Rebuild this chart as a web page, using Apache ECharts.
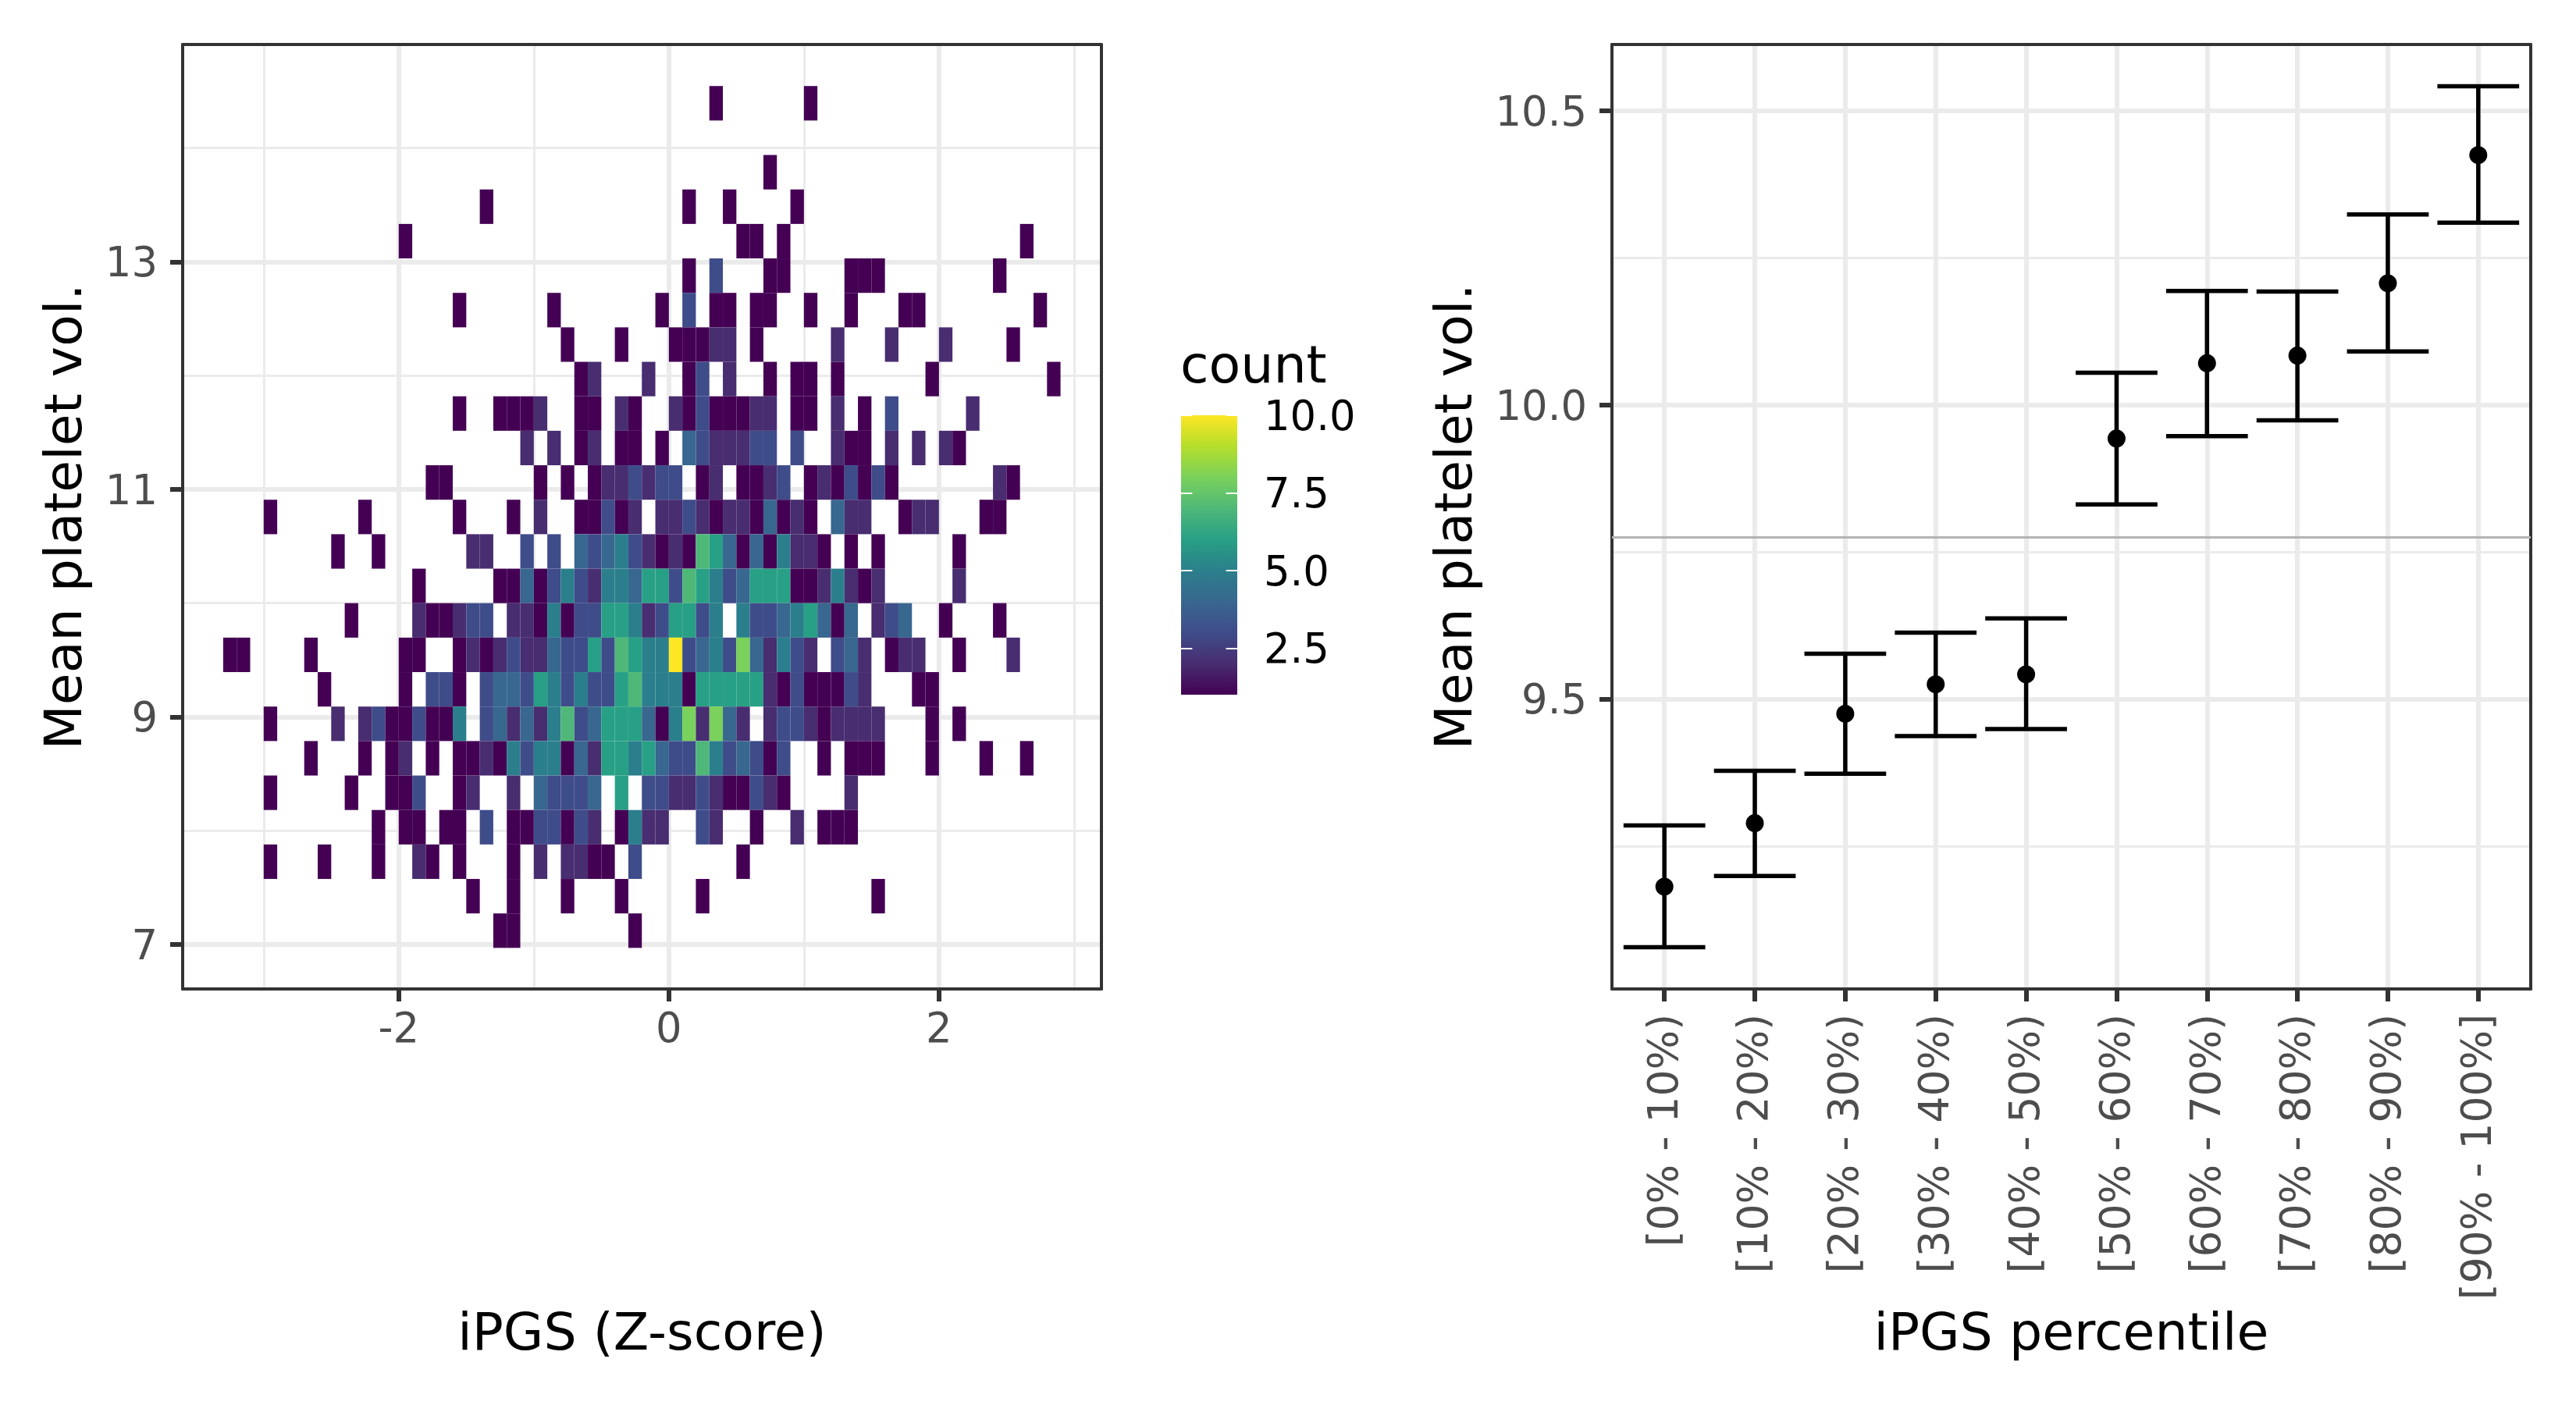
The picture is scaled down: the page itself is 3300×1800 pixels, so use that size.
<!DOCTYPE html>
<html>
<head>
<meta charset="utf-8">
<style>html,body{margin:0;padding:0;background:#fff}#c{width:3300px;height:1800px}</style>
<script src="https://cdn.jsdelivr.net/npm/echarts@6/dist/echarts.min.js"></script>
</head>
<body>
<div id="c"></div>
<script>
// ---------- left panel: 2D histogram. Each pair = [x bin index (x = index / 10), count]
const xBinWidth = 0.1, yBinHeight = 0.303, yBinBase = 6.97;
const row24 = [[-13,1],[-12,1],[-3,1]];
const row23 = [[-15,1],[-12,1],[-8,1],[-4,1],[2,1],[15,1]];
const row22 = [[-30,1],[-26,1],[-22,1],[-19,2],[-18,1],[-16,1],[-12,1],[-10,2],[-8,2],[-7,2],[-6,1],[-5,1],[-3,3],[5,1]];
const row21 = [[-22,1],[-20,1],[-19,1],[-17,1],[-16,1],[-14,3],[-12,1],[-11,1],[-10,3],[-9,3],[-8,1],[-7,3],[-6,2],[-4,1],[-3,5],[-2,2],[-1,2],[2,3],[3,2],[6,1],[9,2],[11,1],[12,1],[13,1]];
const row20 = [[-30,1],[-24,1],[-21,1],[-20,1],[-19,3],[-16,1],[-15,2],[-12,2],[-10,4],[-9,3],[-8,3],[-7,3],[-6,4],[-4,6],[-2,3],[-1,3],[0,2],[1,2],[2,3],[3,2],[4,1],[5,1],[6,3],[7,2],[8,1],[13,2]];
const row19 = [[-27,1],[-23,1],[-21,1],[-20,2],[-18,1],[-16,1],[-15,1],[-14,2],[-13,1],[-12,5],[-11,3],[-10,5],[-9,5],[-8,1],[-7,4],[-6,2],[-5,6],[-4,6],[-3,5],[-2,6],[-1,4],[0,3],[1,3],[2,7],[3,5],[4,3],[5,4],[6,3],[7,1],[8,3],[11,1],[13,1],[14,1],[15,1],[19,1],[23,1],[26,1]];
const row18 = [[-30,1],[-25,2],[-23,2],[-22,3],[-21,1],[-20,1],[-19,3],[-18,1],[-17,1],[-16,5],[-14,3],[-13,4],[-12,2],[-11,4],[-10,2],[-9,5],[-8,7],[-7,3],[-6,4],[-5,6],[-4,6],[-3,6],[-2,4],[-1,1],[0,5],[1,8],[2,2],[3,8],[4,4],[5,2],[7,2],[8,3],[9,3],[10,2],[11,1],[12,2],[13,2],[14,2],[15,2],[19,1],[21,1]];
const row17 = [[-26,1],[-20,1],[-18,3],[-17,3],[-16,1],[-14,3],[-13,4],[-12,4],[-11,3],[-10,6],[-9,5],[-8,3],[-7,5],[-6,3],[-5,3],[-4,6],[-3,7],[-2,5],[-1,5],[0,5],[1,1],[2,6],[3,6],[4,6],[5,6],[6,6],[7,2],[8,1],[9,3],[10,1],[11,1],[12,1],[13,3],[14,2],[18,1],[19,1]];
const row16 = [[-33,1],[-32,1],[-27,1],[-20,1],[-19,1],[-16,1],[-15,2],[-14,1],[-13,2],[-12,3],[-11,2],[-10,2],[-9,4],[-8,3],[-7,3],[-6,6],[-5,3],[-4,7],[-3,6],[-2,5],[-1,5],[0,10],[1,3],[2,4],[3,5],[4,3],[5,8],[6,4],[7,2],[8,5],[9,3],[10,2],[12,3],[13,4],[14,2],[16,1],[17,2],[18,2],[21,1],[25,2]];
const row15 = [[-24,1],[-19,2],[-18,1],[-17,1],[-16,2],[-15,3],[-14,3],[-12,2],[-11,2],[-10,1],[-9,5],[-8,1],[-7,3],[-6,3],[-5,6],[-4,6],[-3,5],[-2,2],[-1,3],[0,6],[1,6],[2,3],[3,5],[5,5],[6,3],[7,3],[8,4],[9,5],[10,6],[11,4],[12,1],[13,4],[15,2],[16,3],[17,4],[20,1],[24,1]];
const row14 = [[-19,1],[-13,1],[-12,1],[-11,4],[-10,1],[-9,3],[-8,5],[-7,3],[-6,2],[-5,5],[-4,5],[-3,4],[-2,6],[-1,6],[0,3],[1,7],[2,6],[3,5],[4,3],[5,4],[6,6],[7,6],[8,6],[9,1],[10,1],[11,2],[12,5],[13,2],[14,1],[15,2],[21,2]];
const row13 = [[-25,1],[-22,1],[-15,2],[-14,2],[-11,3],[-9,3],[-7,4],[-6,3],[-5,4],[-4,5],[-3,3],[-2,2],[-1,1],[0,2],[1,1],[2,7],[3,6],[4,4],[5,1],[6,4],[7,1],[8,5],[9,2],[10,2],[11,1],[13,1],[15,1],[21,1]];
const row12 = [[-30,1],[-23,1],[-16,1],[-12,1],[-10,2],[-7,1],[-6,1],[-5,3],[-4,1],[-3,2],[-1,2],[0,2],[1,3],[2,2],[3,1],[4,2],[5,2],[6,1],[7,4],[8,1],[9,2],[10,1],[12,4],[13,2],[14,2],[17,1],[18,2],[19,2],[23,1],[24,1]];
const row11 = [[-18,1],[-17,1],[-10,1],[-8,1],[-6,1],[-5,2],[-4,2],[-3,3],[-2,2],[-1,3],[0,3],[2,1],[3,2],[5,1],[6,1],[7,2],[8,3],[10,1],[11,2],[12,1],[13,3],[14,1],[15,3],[16,1],[24,2],[25,1]];
const row10 = [[-11,2],[-9,2],[-7,1],[-6,2],[-4,1],[-3,1],[-1,1],[1,4],[2,3],[3,2],[4,2],[5,2],[6,3],[7,3],[9,3],[12,2],[13,1],[14,1],[16,2],[18,2],[20,2],[21,1]];
const row09 = [[-16,1],[-13,1],[-12,1],[-11,1],[-10,2],[-7,1],[-6,1],[-4,2],[-3,1],[0,2],[1,1],[2,3],[3,1],[4,1],[5,1],[6,2],[7,2],[9,1],[10,1],[12,2],[14,1],[16,3],[22,2]];
const row08 = [[-7,1],[-6,2],[-2,2],[1,1],[2,3],[4,2],[7,1],[9,1],[10,1],[12,1],[19,1],[28,1]];
const row07 = [[-8,1],[-4,1],[0,1],[1,1],[2,1],[3,2],[4,2],[6,1],[12,2],[16,2],[20,2],[25,1]];
const row06 = [[-16,1],[-9,1],[-1,1],[1,3],[3,1],[4,1],[6,1],[7,1],[10,1],[13,1],[17,1],[18,1],[27,1]];
const row05 = [[1,1],[3,3],[7,1],[8,1],[13,1],[14,1],[15,1],[24,1]];
const row04 = [[-20,1],[5,1],[6,1],[8,1],[26,1]];
const row03 = [[-14,1],[1,1],[4,1],[9,1]];
const row02 = [[7,1]];
const row01 = [];
const row00 = [[3,1],[10,1]];
const histRowsTopDown = [row00,row01,row02,row03,row04,row05,row06,row07,row08,row09,row10,row11,row12,row13,row14,row15,row16,row17,row18,row19,row20,row21,row22,row23,row24];

const countPalette = ['#440154','#482d70','#3f4c8a','#38678f','#2b7f8c','#28a085','#4fb879','#7ad15b','#b5de2b','#fde725'];
const legendTicks = [2.5, 5, 7.5, 10];
const leftXMajor = [-2, 0, 2];
const leftXMinor = [-3, -1, 1, 3];
const leftYMajor = [7, 9, 11, 13];
const leftYMinor = [8, 10, 12, 14];

// ---------- right panel: mean with confidence interval per percentile bin
const percentileBins = ['[0% - 10%)','[10% - 20%)','[20% - 30%)','[30% - 40%)','[40% - 50%)','[50% - 60%)','[60% - 70%)','[70% - 80%)','[80% - 90%)','[90% - 100%]'];
const binMean  = [9.181, 9.289, 9.475, 9.525, 9.542, 9.943, 10.071, 10.084, 10.207, 10.425];
const binUpper = [9.285, 9.378, 9.577, 9.613, 9.637, 10.055, 10.194, 10.193, 10.324, 10.542];
const binLower = [9.078, 9.199, 9.373, 9.437, 9.449, 9.831, 9.947, 9.974, 10.091, 10.310];
const overallMean = 9.775;
const rightYMajor = [9.5, 10, 10.5];
const rightYMinor = [9.25, 9.75, 10.25];
const capHalfWidth = 0.452;

const FONT = 'DejaVu Sans';
const cells = [];
histRowsTopDown.forEach((row, i) => {
  const yLow = yBinBase + yBinHeight * (histRowsTopDown.length - 1 - i);
  row.forEach(p => cells.push([p[0] * xBinWidth, yLow, p[1]]));
});
const binIndex = percentileBins.map((_, i) => i + 1);

const FRAME = {show: true, onZero: false, lineStyle: {color: '#333333', width: 4}};
const TICK = {length: 16, lineStyle: {color: '#333333', width: 6}};
const LABEL = {fontFamily: FONT, fontSize: 52.8, color: '#4d4d4d'};
const NAME = {fontFamily: FONT, fontSize: 66.5, color: '#000000'};
const GRID_MAJOR = {show: true, lineStyle: {color: '#ebebeb', width: 6}};
const GRID_MINOR = {show: true, lineStyle: {color: '#ebebeb', width: 3}};
// rich-text token sitting low in a taller line box: nudges digits down to ggplot's baseline
const lowered = (color, size, boxHeight) => ({s: {fontFamily: FONT, fontSize: size, color: color, lineHeight: boxHeight, verticalAlign: 'bottom'}});

function majorAxis(extra, values, name, gap, labelOpt) {
  return Object.assign({
    type: 'value', axisLine: FRAME, name: name, nameLocation: 'middle', nameGap: gap, nameTextStyle: NAME,
    axisTick: Object.assign({show: true, customValues: values}, TICK),
    axisLabel: Object.assign({show: true, customValues: values}, LABEL, labelOpt),
    splitLine: GRID_MAJOR, minorSplitLine: {show: false}
  }, extra);
}
function minorAxis(extra, values) {
  return Object.assign({
    type: 'value', axisLine: FRAME,
    axisTick: {show: false, customValues: values},
    axisLabel: {show: false, customValues: values},
    splitLine: GRID_MINOR
  }, extra);
}

const leftX = {min: -3.6, max: 3.203};
const leftY = {min: 6.609, max: 14.91};
const rightX = {min: 0.42, max: 10.58};
const rightY = {min: 9.007, max: 10.613};

const option = {
  backgroundColor: '#ffffff',
  animation: false,
  grid: [
    {left: 234, top: 57, width: 1177, height: 1210},
    {left: 2065, top: 57, width: 1177, height: 1210},
    {left: 1513, top: 532, width: 72, height: 358}
  ],
  xAxis: [
    majorAxis(Object.assign({gridIndex: 0, position: 'bottom'}, leftX), leftXMajor, 'iPGS (Z-score)', 411, {margin: 28}),
    minorAxis(Object.assign({gridIndex: 0, position: 'top'}, leftX), leftXMinor),
    majorAxis(Object.assign({gridIndex: 1, position: 'bottom'}, rightX), binIndex, 'iPGS percentile', 411, {margin: 32, rotate: 90, rich: lowered('#4d4d4d', 53.4, 58), formatter: v => `{s|${percentileBins[v - 1]}}`}),
    {type: 'value', gridIndex: 1, position: 'top', min: rightX.min, max: rightX.max, axisLine: FRAME, axisTick: {show: false}, axisLabel: {show: false}, splitLine: {show: false}},
    {type: 'value', gridIndex: 2, min: 0, max: 1, show: false}
  ],
  yAxis: [
    majorAxis(Object.assign({gridIndex: 0, position: 'left'}, leftY), leftYMajor, 'Mean platelet vol.', 114, {margin: 32, rich: lowered('#4d4d4d', 52.8, 63), formatter: v => `{s|${v}}`}),
    minorAxis(Object.assign({gridIndex: 0, position: 'right'}, leftY), leftYMinor),
    majorAxis(Object.assign({gridIndex: 1, position: 'left'}, rightY), rightYMajor, 'Mean platelet vol.', 164, {margin: 32, rich: lowered('#4d4d4d', 52.8, 63), formatter: v => `{s|${v.toFixed(1)}}`}),
    minorAxis(Object.assign({gridIndex: 1, position: 'right'}, rightY), rightYMinor),
    {type: 'value', gridIndex: 2, position: 'left', min: 1, max: 10, z: 5,
      axisLine: {show: false}, splitLine: {show: false}, axisLabel: {show: false},
      axisTick: {show: true, inside: true, length: 14.4, customValues: legendTicks, lineStyle: {color: '#ffffff', width: 2}}},
    {type: 'value', gridIndex: 2, position: 'right', min: 1, max: 10, z: 5,
      axisLine: {show: false}, splitLine: {show: false},
      axisTick: {show: true, inside: true, length: 14.4, customValues: legendTicks, lineStyle: {color: '#ffffff', width: 2}},
      axisLabel: {show: true, customValues: legendTicks, margin: 34, fontFamily: FONT, fontSize: 52.8, color: '#000000', rich: lowered('#000000', 52.8, 63), formatter: v => `{s|${v.toFixed(1)}}`}}
  ],
  visualMap: [{show: false, seriesIndex: 0, dimension: 2, min: 1, max: 10, inRange: {color: countPalette}}],
  graphic: [{type: 'text', left: 1512, top: 439, silent: true, style: {text: 'count', fontFamily: FONT, fontSize: 66.5, fill: '#000000'}}],
  series: [
    {
      name: 'count', type: 'custom', xAxisIndex: 0, yAxisIndex: 0, data: cells, encode: {x: 0, y: 1}, silent: true,
      renderItem(params, api) {
        const a = api.coord([api.value(0), api.value(1) + yBinHeight]);
        const b = api.coord([api.value(0) + xBinWidth, api.value(1)]);
        return {type: 'rect', shape: {x: a[0], y: a[1], width: b[0] - a[0], height: b[1] - a[1]}, style: {fill: api.visual('color')}};
      }
    },
    {
      name: 'overall mean', type: 'scatter', xAxisIndex: 2, yAxisIndex: 2, data: [], silent: true,
      markLine: {silent: true, symbol: 'none', precision: 3, label: {show: false}, animation: false,
        lineStyle: {color: '#b3b3b3', width: 3, type: 'solid'}, data: [{yAxis: overallMean}]}
    },
    {
      name: 'interval', type: 'custom', xAxisIndex: 2, yAxisIndex: 2, silent: true, z: 3,
      data: binIndex.map((x, i) => [x, binLower[i], binUpper[i]]), encode: {x: 0, y: [1, 2]},
      renderItem(params, api) {
        const x = api.value(0), lo = api.value(1), hi = api.value(2);
        const st = {stroke: '#000000', lineWidth: 5.5, fill: null};
        const seg = (p, q) => {
          const a = api.coord(p), c = api.coord(q);
          return {type: 'line', shape: {x1: a[0], y1: a[1], x2: c[0], y2: c[1]}, style: st};
        };
        return {type: 'group', children: [
          seg([x, lo], [x, hi]),
          seg([x - capHalfWidth, hi], [x + capHalfWidth, hi]),
          seg([x - capHalfWidth, lo], [x + capHalfWidth, lo])
        ]};
      }
    },
    {
      name: 'mean', type: 'scatter', xAxisIndex: 2, yAxisIndex: 2, silent: true, z: 4,
      data: binIndex.map((x, i) => [x, binMean[i]]), symbol: 'circle', symbolSize: 23,
      itemStyle: {color: '#000000', opacity: 1}
    },
    {
      name: 'legend bar', type: 'custom', xAxisIndex: 4, yAxisIndex: 4, silent: true, z: 2,
      data: [[0, 1]], encode: {x: 0, y: 1},
      renderItem(params, api) {
        const a = api.coord([0, 10]), b = api.coord([1, 1]);
        return {type: 'rect', shape: {x: a[0], y: a[1], width: b[0] - a[0], height: b[1] - a[1]},
          style: {fill: new echarts.graphic.LinearGradient(0, 1, 0, 0,
            countPalette.map((c, i) => ({offset: i / (countPalette.length - 1), color: c})))}};
      }
    }
  ]
};
const chart = echarts.init(document.getElementById('c'), null, {renderer: 'canvas', width: 3300, height: 1800});
chart.setOption(option);
</script>
</body>
</html>
